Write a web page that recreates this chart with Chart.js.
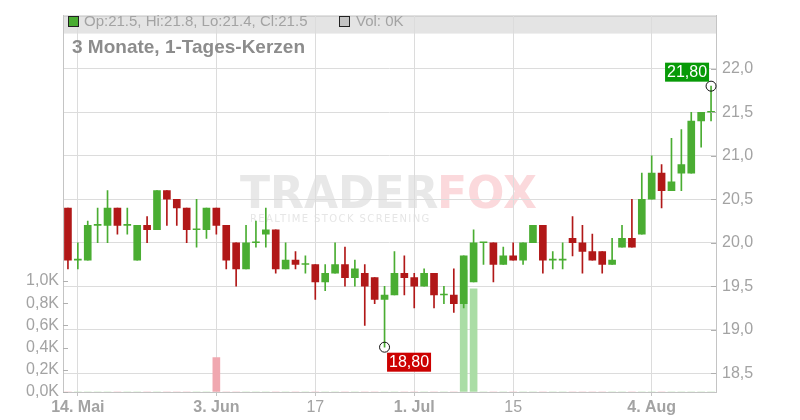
<!DOCTYPE html>
<html>
<head>
<meta charset="utf-8">
<script src="https://cdn.jsdelivr.net/npm/chart.js@4.4.1/dist/chart.umd.min.js"></script>
<style>
  body { margin: 0; background: #fff; }
  #wrap { width: 800px; height: 420px; }
</style>
</head>
<body>
<div id="wrap"><canvas id="kurs" width="800" height="420"></canvas></div>
<script>
// Handelstage (13.05. - 12.08.)
var tage = ['13.05.', '14.05.', '15.05.', '16.05.', '19.05.', '20.05.', '21.05.', '22.05.', '23.05.', '26.05.',
  '27.05.', '28.05.', '29.05.', '30.05.', '02.06.', '03.06.', '04.06.', '05.06.', '06.06.', '09.06.',
  '10.06.', '11.06.', '12.06.', '13.06.', '16.06.', '17.06.', '18.06.', '19.06.', '20.06.', '23.06.',
  '24.06.', '25.06.', '26.06.', '27.06.', '30.06.', '01.07.', '02.07.', '03.07.', '04.07.', '07.07.',
  '08.07.', '09.07.', '10.07.', '11.07.', '14.07.', '15.07.', '16.07.', '17.07.', '18.07.', '21.07.',
  '22.07.', '23.07.', '24.07.', '25.07.', '28.07.', '29.07.', '30.07.', '31.07.', '01.08.', '04.08.',
  '05.08.', '06.08.', '07.08.', '08.08.', '11.08.', '12.08.'];

var open = [20.4, 19.8, 19.8, 20.2, 20.2, 20.4, 20.2, 19.8, 20.2, 20.15,
  20.6, 20.5, 20.4, 20.15, 20.15, 20.4, 20.2, 20.0, 19.7, 20.0,
  20.1, 20.15, 19.7, 19.8, 19.75, 19.75, 19.55, 19.65, 19.75, 19.6,
  19.65, 19.6, 19.35, 19.4, 19.65, 19.6, 19.5, 19.65, 19.4, 19.4,
  19.3, 19.55, 20.0, 20.0, 19.75, 19.85, 19.8, 20.0, 20.2, 19.8,
  19.8, 20.05, 20.0, 19.9, 19.9, 19.75, 19.95, 20.05, 20.1, 20.5,
  20.8, 20.6, 20.8, 20.8, 21.4, 21.5];
var high = [20.4, 20.0, 20.25, 20.4, 20.6, 20.4, 20.4, 20.2, 20.3, 20.6,
  20.6, 20.5, 20.4, 20.5, 20.4, 20.4, 20.2, 20.0, 20.2, 20.25,
  20.4, 20.15, 20.0, 19.9, 19.85, 19.75, 19.75, 20.0, 19.95, 19.8,
  19.75, 19.6, 19.5, 19.9, 19.85, 19.65, 19.7, 19.65, 19.5, 19.7,
  19.85, 20.15, 20.0, 20.0, 19.95, 20.0, 20.0, 20.2, 20.2, 19.9,
  20.0, 20.3, 20.2, 20.1, 19.9, 20.05, 20.2, 20.5, 20.8, 21.0,
  20.9, 21.2, 21.3, 21.5, 21.5, 21.8];
var low = [19.7, 19.7, 19.8, 20.0, 20.0, 20.1, 20.1, 19.8, 20.0, 20.15,
  20.2, 20.2, 20.0, 19.95, 20.05, 20.1, 19.7, 19.5, 19.7, 19.95,
  19.95, 19.65, 19.7, 19.7, 19.65, 19.35, 19.45, 19.65, 19.5, 19.5,
  19.05, 19.3, 18.8, 19.4, 19.4, 19.25, 19.5, 19.25, 19.3, 19.2,
  19.25, 19.55, 19.75, 19.55, 19.75, 19.8, 19.75, 20.0, 19.65, 19.7,
  19.7, 19.85, 19.65, 19.8, 19.65, 19.75, 19.95, 19.95, 20.1, 20.5,
  20.4, 20.6, 20.6, 20.8, 21.1, 21.4];
var close = [19.8, 19.8, 20.2, 20.2, 20.4, 20.2, 20.2, 20.2, 20.15, 20.6,
  20.5, 20.4, 20.15, 20.15, 20.4, 20.2, 19.8, 19.7, 20.0, 20.0,
  20.15, 19.7, 19.8, 19.75, 19.75, 19.55, 19.65, 19.75, 19.6, 19.7,
  19.5, 19.35, 19.4, 19.65, 19.6, 19.5, 19.65, 19.4, 19.4, 19.3,
  19.85, 20.0, 20.0, 19.75, 19.85, 19.8, 20.0, 20.2, 19.8, 19.8,
  19.8, 20.0, 19.9, 19.8, 19.75, 19.8, 20.05, 19.95, 20.5, 20.8,
  20.6, 20.7, 20.9, 21.4, 21.5, 21.5];
// Volumen in Tausend Stueck
var volumen = [0, 0, 0, 0, 0, 0, 0, 0, 0, 0,
  0, 0, 0, 0, 0, 0.31, 0, 0, 0, 0,
  0, 0, 0, 0, 0, 0, 0, 0, 0, 0,
  0, 0, 0, 0, 0, 0, 0, 0, 0, 0,
  1.1, 0.93, 0, 0, 0, 0, 0, 0, 0, 0,
  0, 0, 0, 0, 0, 0, 0, 0, 0, 0,
  0, 0, 0, 0, 0, 0];

var tickTage = ['14.05.', '03.06.', '17.06.', '01.07.', '15.07.', '04.08.'];
var tickText = ['14. Mai', '3. Jun', '17', '1. Jul', '15', '4. Aug'];
var tickFett = [true, true, false, true, false, true];
var kursTicks = [18.5, 19.0, 19.5, 20.0, 20.5, 21.0, 21.5, 22.0];
var volTicks = [0, 0.2, 0.4, 0.6, 0.8, 1.0];

var gruen = 'rgb(74,173,50)';
var rot = 'rgb(177,24,24)';
var grau = '#a3a3a3';
var rahmen = '#c4c4c4';

Chart.defaults.font.family = "'Liberation Sans', Arial, sans-serif";
Chart.defaults.font.size = 16;

var farben = close.map(function (c, i) { return c >= open[i] ? gruen : rot; });
var volFarben = close.map(function (c, i) { return c >= open[i] ? 'rgb(170,221,165)' : 'rgb(240,168,176)'; });
var dochte = low.map(function (l, i) { return [l, high[i]]; });
var koerper = open.map(function (o, i) { return [Math.min(o, close[i]), Math.max(o, close[i])]; });

// Hoch / Tief markieren
var iHoch = high.indexOf(Math.max.apply(null, high));
var iTief = low.indexOf(Math.min.apply(null, low));
var marken = tage.map(function (t, i) {
  if (i === iHoch) return high[i];
  if (i === iTief) return low[i];
  return null;
});

function komma(v, n) { return v.toFixed(n).replace('.', ','); }

var deko = {
  id: 'deko',
  beforeDraw: function (chart) {
    var ctx = chart.ctx, a = chart.chartArea;
    ctx.save();
    // Legendenband
    ctx.fillStyle = '#e4e4e4';
    ctx.fillRect(a.left, a.top, a.right - a.left, 18);
    ctx.strokeStyle = rahmen;
    ctx.lineWidth = 1;
    ctx.beginPath();
    ctx.moveTo(a.left, a.top + 0.5);
    ctx.lineTo(a.right, a.top + 0.5);
    ctx.stroke();
    // Wasserzeichen
    ctx.textBaseline = 'alphabetic';
    ctx.font = "bold 44px 'DejaVu Sans'";
    ctx.fillStyle = '#e8e8e8';
    ctx.fillText('TRADER', 240, 208);
    ctx.fillStyle = '#fbd9dc';
    ctx.fillText('FOX', 437, 208);
    ctx.font = "10px 'DejaVu Sans'";
    ctx.letterSpacing = '1.4px';
    ctx.fillStyle = '#e6e6e6';
    ctx.fillText('REALTIME STOCK SCREENING', 250, 222);
    ctx.restore();
  },
  afterDraw: function (chart) {
    var ctx = chart.ctx, a = chart.chartArea;
    var sy = chart.scales.y, sv = chart.scales.yVol, sx = chart.scales.x;
    ctx.save();
    // kleine Striche an den Achsen
    ctx.strokeStyle = '#b0b0b0';
    ctx.lineWidth = 1;
    volTicks.forEach(function (v) {
      var y = Math.round(sv.getPixelForValue(v)) + 0.5;
      ctx.beginPath(); ctx.moveTo(a.left, y); ctx.lineTo(a.left + 5, y); ctx.stroke();
    });
    kursTicks.forEach(function (v) {
      var y = Math.round(sy.getPixelForValue(v)) + 0.5;
      ctx.beginPath(); ctx.moveTo(a.right - 5, y); ctx.lineTo(a.right, y); ctx.stroke();
    });
    // Legende
    var n = open.length - 1;
    ctx.fillStyle = gruen;
    ctx.fillRect(69, 17, 9, 9);
    ctx.strokeStyle = '#222';
    ctx.strokeRect(68.5, 16.5, 10, 10);
    ctx.fillStyle = '#c4c4c4';
    ctx.fillRect(340, 17, 9, 9);
    ctx.strokeRect(339.5, 16.5, 10, 10);
    ctx.font = "15px 'Liberation Sans'";
    ctx.fillStyle = grau;
    ctx.textBaseline = 'middle';
    ctx.fillText('Op:' + open[n] + ', Hi:' + high[n] + ', Lo:' + low[n] + ', Cl:' + close[n], 84, 21.5);
    ctx.fillText('Vol: ' + volumen[n] + 'K', 356, 21.5);
    ctx.font = "bold 19px 'Liberation Sans'";
    ctx.fillStyle = '#8c8c8c';
    ctx.fillText('3 Monate, 1-Tages-Kerzen', 72, 47.5);
    // Hoch/Tief Schilder
    ctx.font = "16px 'Liberation Sans'";
    ctx.textAlign = 'center';
    var hx = sx.getPixelForValue(iHoch), hy = sy.getPixelForValue(high[iHoch]);
    ctx.fillStyle = '#079a07';
    ctx.fillRect(hx - 46, hy - 23.5, 44, 19);
    ctx.fillStyle = '#fff';
    ctx.fillText(komma(high[iHoch], 2), hx - 24, hy - 13.5);
    var tx = sx.getPixelForValue(iTief), ty = sy.getPixelForValue(low[iTief]);
    ctx.fillStyle = '#cc0000';
    ctx.fillRect(tx + 2.5, ty + 5.5, 44, 19);
    ctx.fillStyle = '#fff';
    ctx.fillText(komma(low[iTief], 2), tx + 24.5, ty + 15.5);
    ctx.restore();
  }
};

new Chart(document.getElementById('kurs'), {
  type: 'bar',
  data: {
    labels: tage,
    datasets: [{
      type: 'line',
      data: marken,
      yAxisID: 'y',
      showLine: false,
      pointRadius: 5,
      pointBackgroundColor: 'rgba(0,0,0,0)',
      pointBorderColor: '#111',
      pointBorderWidth: 1,
      order: 0
    }, {
      data: koerper,
      yAxisID: 'y',
      backgroundColor: farben,
      barThickness: 7,
      minBarLength: 1,
      grouped: false,
      order: 1
    }, {
      data: dochte,
      yAxisID: 'y',
      backgroundColor: farben,
      barThickness: 1,
      grouped: false,
      order: 2
    }, {
      data: volumen,
      yAxisID: 'yVol',
      backgroundColor: volFarben,
      barThickness: 7,
      grouped: false,
      order: 3
    }]
  },
  options: {
    responsive: false,
    animation: false,
    layout: { padding: { top: 12, left: 0, right: 0, bottom: 0 } },
    plugins: { legend: { display: false }, tooltip: { enabled: false } },
    scales: {
      x: {
        offset: true,
        border: { color: rahmen },
        grid: {
          offset: false,
          tickLength: 4,
          color: function (c) { return tickTage.indexOf(tage[c.index]) >= 0 ? '#dcdcdc' : 'rgba(0,0,0,0)'; },
          tickColor: function (c) { return tickTage.indexOf(tage[c.index]) >= 0 ? rahmen : 'rgba(0,0,0,0)'; }
        },
        ticks: {
          autoSkip: false,
          maxRotation: 0,
          padding: 2,
          color: grau,
          font: function (c) {
            var k = tickTage.indexOf(tage[c.index]);
            return { size: 16, weight: (k >= 0 && tickFett[k]) ? 'bold' : 'normal' };
          },
          callback: function (v, i) {
            var k = tickTage.indexOf(tage[i]);
            return k >= 0 ? tickText[k] : '';
          }
        },
        afterFit: function (s) { s.height = 28; }
      },
      y: {
        position: 'right',
        min: 18.285,
        max: 22.611,
        border: { color: rahmen },
        grid: { color: '#dcdcdc', drawTicks: false },
        afterBuildTicks: function (s) { s.ticks = kursTicks.map(function (v) { return { value: v }; }); },
        ticks: {
          padding: 6,
          color: grau,
          callback: function (v) { return komma(v, 1); }
        },
        afterFit: function (s) { s.width = 84; }
      },
      yVol: {
        position: 'left',
        min: 0,
        max: 3.393,
        border: { color: rahmen },
        grid: { drawOnChartArea: false, drawTicks: false },
        afterBuildTicks: function (s) { s.ticks = volTicks.map(function (v) { return { value: v }; }); },
        ticks: {
          padding: 4,
          color: grau,
          callback: function (v) { return komma(v, 1) + 'K'; }
        },
        afterFit: function (s) { s.width = 63; }
      }
    }
  },
  plugins: [deko]
});
</script>
</body>
</html>
